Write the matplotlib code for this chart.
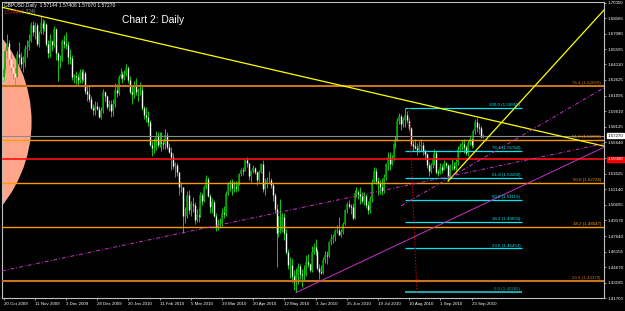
import matplotlib
matplotlib.use("Agg")
import matplotlib.pyplot as plt
from matplotlib.patches import Ellipse

plt.rcParams['font.family'] = ['Liberation Sans', 'DejaVu Sans']

# GBPUSD daily bars, 20 Oct 2009 .. 1 Oct 2010 (open = previous close)
first_open = 1.6290
closes = [
    # Oct 2009
    1.6370, 1.6545, 1.6620, 1.6460, 1.6390, 1.6330, 1.6290, 1.6510, 1.6480,
    # Nov
    1.6420, 1.6430, 1.6560, 1.6580, 1.6640, 1.6790, 1.6720, 1.6790, 1.6610, 1.6710, 1.6810,
    1.6760, 1.6800, 1.6610, 1.6520, 1.6640, 1.6600, 1.6750, 1.6520, 1.6450, 1.6450,
    # Dec
    1.6640, 1.6610, 1.6600, 1.6480, 1.6470, 1.6290, 1.6300, 1.6290, 1.6260, 1.6340, 1.6270,
    1.6330, 1.6160, 1.6130, 1.6080, 1.5990, 1.5970, 1.6010, 1.5980, 1.5910, 1.5960, 1.6150,
    # Jan 2010
    1.6110, 1.6000, 1.6030, 1.5960, 1.6030, 1.6170, 1.6140, 1.6290, 1.6320, 1.6280,
    1.6320, 1.6380, 1.6260, 1.6150, 1.6130, 1.6200, 1.6150, 1.6170, 1.6170, 1.5990,
    # Feb
    1.5930, 1.5910, 1.5860, 1.5640, 1.5610, 1.5610, 1.5720, 1.5640, 1.5670, 1.5660,
    1.5650, 1.5730, 1.5620, 1.5570, 1.5520, 1.5440, 1.5450, 1.5380, 1.5240, 1.5240,
    # Mar
    1.4960, 1.4960, 1.5160, 1.5010, 1.5070, 1.5060, 1.4920, 1.4970, 1.4960, 1.5160, 1.5100, 1.5240,
    1.5310, 1.5150, 1.5040, 1.5090, 1.4960, 1.4850, 1.4870, 1.4880, 1.4990, 1.4980, 1.5180,
    # Apr
    1.5270, 1.5280, 1.5230, 1.5240, 1.5230, 1.5280, 1.5360, 1.5400, 1.5390, 1.5490, 1.5470,
    1.5340, 1.5390, 1.5420, 1.5380, 1.5300, 1.5380, 1.5460, 1.5220, 1.5270, 1.5300, 1.5300,
    # May
    1.5250, 1.5160, 1.5020, 1.4790, 1.4800, 1.4810, 1.4950, 1.4790, 1.4610, 1.4490, 1.4490,
    1.4380, 1.4320, 1.4390, 1.4480, 1.4400, 1.4390, 1.4390, 1.4520, 1.4500, 1.4440,
    # Jun
    1.4610, 1.4660, 1.4620, 1.4460, 1.4420, 1.4410, 1.4530, 1.4580, 1.4570, 1.4710, 1.4740,
    1.4760, 1.4810, 1.4820, 1.4770, 1.4800, 1.4880, 1.5010, 1.5070, 1.5050, 1.5040, 1.4940,
    # Jul
    1.5180, 1.5190, 1.5170, 1.5150, 1.5100, 1.5150, 1.5060, 1.5010, 1.5120, 1.5280, 1.5390,
    1.5290, 1.5270, 1.5240, 1.5200, 1.5330, 1.5460, 1.5520, 1.5460, 1.5510, 1.5650, 1.5690,
    # Aug
    1.5870, 1.5920, 1.5840, 1.5880, 1.5930, 1.5880, 1.5800, 1.5650, 1.5630, 1.5610, 1.5590,
    1.5630, 1.5640, 1.5580, 1.5550, 1.5450, 1.5390, 1.5450, 1.5510, 1.5560, 1.5380, 1.5370,
    # Sep
    1.5430, 1.5400, 1.5470, 1.5450, 1.5340, 1.5440, 1.5440, 1.5420, 1.5480, 1.5600, 1.5630,
    1.5650, 1.5620, 1.5560, 1.5660, 1.5700, 1.5640, 1.5770, 1.5860, 1.5810, 1.5800, 1.5714,
    # 1 Oct
    1.5727,
]
highs = [
    1.6420, 1.6580, 1.6700, 1.6650, 1.6520, 1.6420, 1.6380, 1.6540, 1.6630,
    1.6530, 1.6490, 1.6600, 1.6650, 1.6700, 1.6820, 1.6830, 1.6820, 1.6810, 1.6730, 1.6880,
    1.6850, 1.6840, 1.6810, 1.6650, 1.6700, 1.6650, 1.6780, 1.6760, 1.6530, 1.6500,
    1.6660, 1.6690, 1.6720, 1.6640, 1.6560, 1.6500, 1.6320, 1.6350, 1.6320, 1.6370, 1.6370,
    1.6370, 1.6350, 1.6200, 1.6200, 1.6110, 1.6030, 1.6060, 1.6050, 1.6010, 1.6000, 1.6180,
    1.6160, 1.6120, 1.6070, 1.6070, 1.6080, 1.6230, 1.6220, 1.6310, 1.6380, 1.6350,
    1.6360, 1.6420, 1.6400, 1.6300, 1.6210, 1.6250, 1.6280, 1.6190, 1.6240, 1.6210,
    1.6010, 1.6000, 1.5960, 1.5880, 1.5680, 1.5710, 1.5770, 1.5760, 1.5760, 1.5760,
    1.5700, 1.5790, 1.5760, 1.5660, 1.5620, 1.5560, 1.5480, 1.5470, 1.5380, 1.5280,
    1.5240, 1.5040, 1.5200, 1.5210, 1.5100, 1.5140, 1.5090, 1.5020, 1.5040, 1.5190, 1.5180, 1.5250,
    1.5350, 1.5330, 1.5170, 1.5130, 1.5110, 1.4990, 1.4930, 1.4940, 1.5030, 1.5050, 1.5200,
    1.5280, 1.5300, 1.5310, 1.5290, 1.5290, 1.5290, 1.5370, 1.5420, 1.5430, 1.5500, 1.5520,
    1.5470, 1.5400, 1.5450, 1.5430, 1.5390, 1.5400, 1.5470, 1.5490, 1.5320, 1.5330, 1.5390,
    1.5320, 1.5270, 1.5180, 1.5070, 1.4960, 1.5120, 1.4990, 1.4990, 1.4830, 1.4640, 1.4560,
    1.4550, 1.4440, 1.4460, 1.4510, 1.4500, 1.4450, 1.4490, 1.4580, 1.4590, 1.4510,
    1.4670, 1.4700, 1.4740, 1.4640, 1.4500, 1.4490, 1.4560, 1.4620, 1.4620, 1.4720, 1.4780,
    1.4780, 1.4830, 1.4870, 1.4950, 1.4830, 1.4900, 1.5020, 1.5090, 1.5110, 1.5070, 1.5080,
    1.5210, 1.5240, 1.5210, 1.5240, 1.5190, 1.5190, 1.5170, 1.5100, 1.5150, 1.5310, 1.5430,
    1.5420, 1.5330, 1.5300, 1.5320, 1.5360, 1.5470, 1.5570, 1.5570, 1.5540, 1.5660, 1.5720,
    1.5900, 1.5950, 1.5940, 1.5910, 1.5995, 1.5960, 1.5900, 1.5810, 1.5690, 1.5700, 1.5660,
    1.5680, 1.5700, 1.5670, 1.5600, 1.5560, 1.5480, 1.5470, 1.5540, 1.5600, 1.5580, 1.5410,
    1.5470, 1.5460, 1.5490, 1.5480, 1.5460, 1.5460, 1.5500, 1.5480, 1.5500, 1.5630, 1.5660,
    1.5690, 1.5700, 1.5640, 1.5690, 1.5730, 1.5710, 1.5790, 1.5890, 1.5900, 1.5850, 1.5820,
    1.57408,
]
lows = [
    1.6250, 1.6330, 1.6470, 1.6410, 1.6340, 1.6270, 1.6200, 1.6280, 1.6410,
    1.6380, 1.6340, 1.6390, 1.6480, 1.6550, 1.6630, 1.6680, 1.6660, 1.6590, 1.6580, 1.6700,
    1.6700, 1.6730, 1.6590, 1.6470, 1.6480, 1.6540, 1.6580, 1.6450, 1.6250, 1.6380,
    1.6440, 1.6570, 1.6560, 1.6420, 1.6420, 1.6260, 1.6230, 1.6220, 1.6210, 1.6230, 1.6230,
    1.6250, 1.6130, 1.6060, 1.6050, 1.5980, 1.5930, 1.5930, 1.5970, 1.5900, 1.5890, 1.5950,
    1.6060, 1.5980, 1.5960, 1.5910, 1.5920, 1.6000, 1.6100, 1.6120, 1.6270, 1.6230,
    1.6260, 1.6300, 1.6230, 1.6130, 1.6030, 1.6090, 1.6120, 1.6060, 1.6120, 1.5970,
    1.5890, 1.5860, 1.5820, 1.5630, 1.5530, 1.5560, 1.5590, 1.5620, 1.5620, 1.5580,
    1.5600, 1.5600, 1.5600, 1.5560, 1.5400, 1.5410, 1.5330, 1.5340, 1.5160, 1.5190,
    1.4790, 1.4890, 1.4940, 1.4980, 1.4960, 1.5000, 1.4880, 1.4900, 1.4900, 1.4950, 1.5060, 1.5090,
    1.5220, 1.5140, 1.4990, 1.4990, 1.4950, 1.4810, 1.4820, 1.4850, 1.4860, 1.4940, 1.4960,
    1.5160, 1.5200, 1.5160, 1.5190, 1.5190, 1.5200, 1.5250, 1.5340, 1.5350, 1.5390, 1.5430,
    1.5300, 1.5280, 1.5370, 1.5360, 1.5250, 1.5280, 1.5370, 1.5190, 1.5160, 1.5230, 1.5270,
    1.5230, 1.5100, 1.4990, 1.4470, 1.4760, 1.4790, 1.4800, 1.4730, 1.4590, 1.4450, 1.4360,
    1.4320, 1.4250, 1.4229, 1.4300, 1.4350, 1.4280, 1.4340, 1.4380, 1.4470, 1.4420,
    1.4420, 1.4590, 1.4580, 1.4440, 1.4350, 1.4400, 1.4400, 1.4510, 1.4500, 1.4560, 1.4680,
    1.4700, 1.4720, 1.4790, 1.4770, 1.4760, 1.4780, 1.4870, 1.4990, 1.5030, 1.4980, 1.4920,
    1.4930, 1.5140, 1.5120, 1.5070, 1.5080, 1.5060, 1.5030, 1.4980, 1.4990, 1.5090, 1.5270,
    1.5260, 1.5160, 1.5170, 1.5160, 1.5180, 1.5300, 1.5400, 1.5400, 1.5450, 1.5490, 1.5610,
    1.5680, 1.5840, 1.5780, 1.5810, 1.5810, 1.5850, 1.5770, 1.5630, 1.5580, 1.5600, 1.5540,
    1.5570, 1.5580, 1.5540, 1.5500, 1.5420, 1.5340, 1.5370, 1.5420, 1.5450, 1.5360, 1.5340,
    1.5360, 1.5370, 1.5400, 1.5420, 1.5295, 1.5320, 1.5400, 1.5400, 1.5400, 1.5450, 1.5570,
    1.5590, 1.5560, 1.5540, 1.5530, 1.5640, 1.5610, 1.5620, 1.5740, 1.5760, 1.5740, 1.5710,
    1.57070,
]

# x axis: one label every 16 bars
date_labels = ["20 Oct 2009", "11 Nov 2009", "3 Dec 2009", "28 Dec 2009", "20 Jan 2010",
               "11 Feb 2010", "5 Mar 2010", "29 Mar 2010", "20 Apr 2010", "12 May 2010",
               "3 Jun 2010", "25 Jun 2010", "19 Jul 2010", "10 Aug 2010", "1 Sep 2010",
               "23 Sep 2010"]
label_step = 16

price_ticks = [1.41700, 1.43185, 1.44670, 1.46155, 1.47640, 1.49170, 1.50655, 1.52140,
               1.53625, 1.55110, 1.56640, 1.58125, 1.59610, 1.61095, 1.62625, 1.64110,
               1.65595, 1.67080, 1.68565, 1.70050]

# big fibonacci (orange, full width)
big_fib_levels = [23.6, 38.2, 50.0, 61.8, 76.4]
big_fib_prices = [1.43379, 1.48547, 1.52724, 1.56901, 1.62069]
big_fib_colors = ["#c8741c", "#ff9a00", "#ff9a00", "#ff9a00", "#c8741c"]

# small fibonacci (cyan) from the May low to the Aug high
small_fib_levels = [0.0, 23.6, 38.2, 50.0, 61.8, 76.4, 100.0]
small_fib_prices = [1.42282, 1.46453, 1.49033, 1.51119, 1.53204, 1.55784, 1.59955]
small_fib_bars = [206, 266]
small_fib_anchor_bars = [208, 212]

bid_price = 1.57270
red_level = 1.55000
ohlc_text = "GBPUSD,Daily  1.57144 1.57408 1.57070 1.57270"

# trendlines as (bars, prices)
yellow_down = ([19, 306], [1.6875, 1.5636])
yellow_up = ([228, 308], [1.5292, 1.6935])
magenta_solid = ([150, 309], [1.4222, 1.5626])
magenta_dash_a = ([0, 309], [1.4433, 1.5655])
magenta_dash_b = ([204, 309], [1.5055, 1.6199])

# salmon ellipse: centre (bar, price), width in bars, height in price
ellipse_center = (-57.4, 1.5860)
ellipse_size = (143.6, 0.2620)

W, H = 625, 311
fig = plt.figure(figsize=(W / 100, H / 100), dpi=100, facecolor="black")
ax = fig.add_axes([2 / W, 13 / H, 602 / W, 296 / H], facecolor="black")

n = len(closes)
xs = list(range(n))
opens = [first_open] + closes[:-1]

ax.add_patch(Ellipse(ellipse_center, ellipse_size[0], ellipse_size[1],
                     facecolor="#ffa68a", edgecolor="none", zorder=0.5))

# candles
ax.vlines(xs, lows, highs, color="#19e619", lw=0.6, zorder=2)
bull_x = [i for i in xs if closes[i] >= opens[i]]
bear_x = [i for i in xs if closes[i] < opens[i]]
ax.vlines(bull_x, [opens[i] for i in bull_x], [closes[i] for i in bull_x],
          color="#00a800", lw=1.1, zorder=2.1)
ax.vlines(bear_x, [closes[i] for i in bear_x], [opens[i] for i in bear_x],
          color="white", lw=1.0, zorder=2.1)

# horizontal levels
ax.axhline(bid_price, color="#8c8c8c", lw=0.8, zorder=3)
ax.axhline(red_level, color="#ff1010", lw=1.2, zorder=3)
for lev, p, c in zip(big_fib_levels, big_fib_prices, big_fib_colors):
    ax.axhline(p, color=c, lw=1.5 if c == "#c8741c" else 1.0, zorder=3)
    ax.text(0.995, p + 0.0009, f"{lev:.1f} ({p:.5f})", transform=ax.get_yaxis_transform(),
            ha="right", va="bottom", fontsize=3.2, color=c, zorder=5)

for lev, p in zip(small_fib_levels, small_fib_prices):
    c = "#1fa3a3" if lev == 0.0 else "#00e8f0"
    ax.hlines(p, small_fib_bars[0], small_fib_bars[1], color=c,
              lw=1.5 if lev == 0.0 else 0.9, zorder=3)
    ax.text(small_fib_bars[1] - 1, p + 0.0009, f"{lev:.1f} ({p:.5f})",
            ha="right", va="bottom", fontsize=3.2, color=c, zorder=5)
ax.plot(small_fib_anchor_bars, [small_fib_prices[-1], small_fib_prices[0]],
        color="#d00000", lw=0.8, ls=(0, (1.2, 1.6)), zorder=3)


def ray(pts, **kw):
    (x0, x1), (y0, y1) = pts
    slope = (y1 - y0) / (x1 - x0)
    ax.plot([x0, 340], [y0, y0 + slope * (340 - x0)], **kw)


ray(yellow_up, color="#ffff00", lw=0.9, zorder=4)
ax.axline((yellow_down[0][0], yellow_down[1][0]), (yellow_down[0][1], yellow_down[1][1]),
          color="#ffff00", lw=0.9, zorder=4)
ray(magenta_solid, color="#c832c8", lw=0.7, zorder=4)
ax.axline((magenta_dash_a[0][0], magenta_dash_a[1][0]), (magenta_dash_a[0][1], magenta_dash_a[1][1]),
          color="#c832c8", lw=0.7, ls=(0, (4, 2, 1, 2)), zorder=4)
ray(magenta_dash_b, color="#c832c8", lw=0.7, ls=(0, (4, 2, 1, 2)), zorder=4)

# axes
x_left = -0.77
x_right = x_left + 602 / 1.95
ax.set_xlim(x_left, x_right)
ax.set_ylim(1.4184, 1.4184 + 296 * 0.000955)

ax.set_xticks([i * label_step for i in range(len(date_labels))])
ax.set_xticklabels(date_labels, ha="left")
ax.set_yticks(price_ticks)
ax.set_yticklabels([f"{p:.5f}" for p in price_ticks])
ax.yaxis.tick_right()
ax.tick_params(axis="both", colors="#d0d0d0", labelcolor="white", labelsize=3.2,
               length=1.6, width=0.5, pad=1.2)
for s in ax.spines.values():
    s.set_color("#c0c0c0")
    s.set_linewidth(0.8)

# price boxes on the right scale
ax.text(1.006, bid_price, f"{bid_price:.5f}", transform=ax.get_yaxis_transform(),
        ha="left", va="center", fontsize=3.2, color="black", zorder=6, clip_on=False,
        bbox=dict(boxstyle="square,pad=0.15", fc="white", ec="white"))
ax.text(1.006, red_level, f"{red_level:.5f}", transform=ax.get_yaxis_transform(),
        ha="left", va="center", fontsize=3.2, color="white", zorder=6, clip_on=False,
        bbox=dict(boxstyle="square,pad=0.15", fc="#ff0000", ec="#ff0000"))

# header texts
fig.text(4 / W, 1 - 6 / H, ohlc_text, fontsize=3.5, color="white", va="center", ha="left")
fig.text(4 / W, 1 - 12 / H, "1.57494", fontsize=3.5, color="#e02020", va="center", ha="left")
fig.text(22 / W, 1 - 12 / H, "(-.224)", fontsize=3.5, color="#a0a0a0", va="center", ha="left")
fig.text(122 / W, 1 - 20 / H, "Chart 2: Daily", fontsize=7.4, color="white", va="center", ha="left")

fig.savefig("out.png", dpi=100, facecolor="black")
